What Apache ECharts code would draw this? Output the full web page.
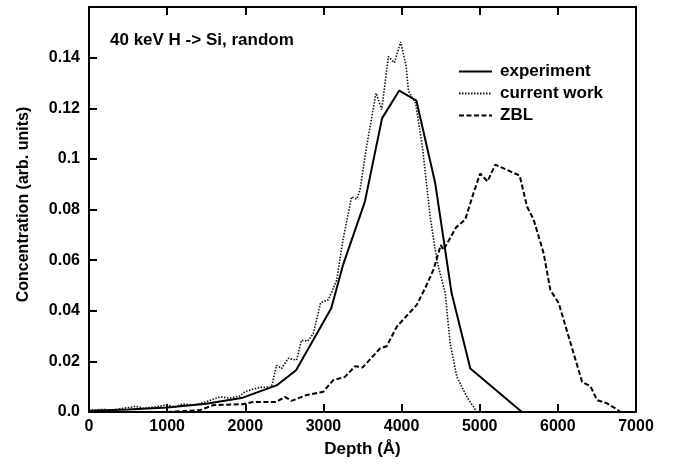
<!DOCTYPE html>
<html>
<head>
<meta charset="utf-8">
<script src="https://cdn.jsdelivr.net/npm/echarts@6/dist/echarts.min.js"></script>
<style>html,body{margin:0;padding:0;background:#fff}#c{width:679px;height:469px}</style>
</head>
<body>
<div id="c"></div>
<script>
var seriesNames = ['experiment', 'current work', 'ZBL'];
var titleText = '40 keV H -> Si, random';
var xTicks = [0, 1000, 2000, 3000, 4000, 5000, 6000, 7000];
var yTicks = [0, 0.02, 0.04, 0.06, 0.08, 0.1, 0.12, 0.14];

var experiment = [
  [0, 0.0005], [500, 0.001], [1000, 0.0018], [1500, 0.0033], [1950, 0.0055],
  [2400, 0.0105], [2650, 0.0165], [3100, 0.041], [3250, 0.058], [3530, 0.083],
  [3750, 0.116], [3970, 0.127], [4190, 0.123], [4430, 0.0905], [4640, 0.047],
  [4880, 0.0172], [5540, 0]
];

var currentWork = [
  [0, 0.0005], [150, 0.001], [300, 0.0008], [450, 0.0015], [600, 0.0022], [700, 0.0015],
  [850, 0.002], [1000, 0.0028], [1100, 0.002], [1200, 0.0032], [1350, 0.0028],
  [1500, 0.004], [1673, 0.006], [1800, 0.0055], [1929, 0.0063], [1994, 0.008],
  [2100, 0.009], [2186, 0.0097], [2336, 0.0099], [2400, 0.0185], [2464, 0.0172],
  [2549, 0.0212], [2656, 0.0205], [2720, 0.0284], [2800, 0.028], [2870, 0.031],
  [2964, 0.0432], [3062, 0.0443], [3169, 0.052], [3250, 0.068], [3361, 0.085],
  [3425, 0.0841], [3468, 0.0878], [3553, 0.105], [3673, 0.126], [3746, 0.1195],
  [3831, 0.1404], [3908, 0.138], [3989, 0.1462], [4058, 0.1367], [4088, 0.1268],
  [4180, 0.122], [4270, 0.104], [4365, 0.0773], [4451, 0.060], [4558, 0.047],
  [4622, 0.0271], [4707, 0.0139], [4836, 0.006], [4964, 0]
];

var zbl = [
  [1000, 0], [1417, 0.0007], [1588, 0.0027], [1972, 0.0031], [2100, 0.004],
  [2400, 0.004], [2506, 0.006], [2592, 0.0044], [2784, 0.0067], [2998, 0.008],
  [3126, 0.0126], [3276, 0.0139], [3404, 0.0181], [3502, 0.0176], [3724, 0.0251],
  [3810, 0.026], [3938, 0.0337], [4194, 0.0423], [4301, 0.0489], [4408, 0.0562],
  [4502, 0.066], [4536, 0.064], [4699, 0.073], [4814, 0.076], [4921, 0.0865],
  [5006, 0.0942], [5100, 0.0911], [5199, 0.0977], [5511, 0.0934], [5605, 0.0812],
  [5690, 0.076], [5818, 0.0627], [5904, 0.0482], [6011, 0.043], [6310, 0.0119],
  [6417, 0.0102], [6502, 0.0047], [6630, 0.0034], [6759, 0.001], [6800, 0]
];

var FONT = '"Liberation Sans", Arial, Helvetica, sans-serif';
var chart = echarts.init(document.getElementById('c'), null, {renderer: 'canvas'});
var axisLineStyle = {color: '#000', width: 2};
var tickStyle = {show: true, inside: true, length: 8, lineStyle: {color: '#000', width: 2}};
chart.setOption({
  animation: false,
  backgroundColor: '#fff',
  grid: {left: 89, right: 43, top: 7, bottom: 57, containLabel: false},
  title: {
    text: titleText, left: 105, top: 27,
    textStyle: {fontFamily: FONT, fontWeight: 'bold', fontSize: 17, color: '#000'}
  },
  legend: {
    left: 453, top: 58, orient: 'vertical',
    itemWidth: 33, itemHeight: 14, itemGap: 5,
    data: seriesNames,
    itemStyle: {opacity: 0},
    textStyle: {fontFamily: FONT, fontWeight: 'bold', fontSize: 17, color: '#000', padding: [0, 0, 0, 3]}
  },
  xAxis: [{
    type: 'value', min: 0, max: 7000, interval: 1000, position: 'bottom',
    name: 'Depth (Å)', nameLocation: 'middle', nameGap: 29,
    nameTextStyle: {fontFamily: FONT, fontWeight: 'bold', fontSize: 17, color: '#000'},
    axisLine: {show: true, onZero: false, lineStyle: axisLineStyle},
    axisTick: tickStyle,
    axisLabel: {fontFamily: FONT, fontWeight: 'bold', fontSize: 16, color: '#000', margin: 7,
      formatter: function (v) { return xTicks.indexOf(v) >= 0 ? String(v) : ''; }},
    splitLine: {show: false}
  }, {
    type: 'value', min: 0, max: 7000, interval: 1000, position: 'top',
    axisLine: {show: true, onZero: false, lineStyle: axisLineStyle},
    axisTick: tickStyle,
    axisLabel: {show: false}, splitLine: {show: false}
  }],
  yAxis: [{
    type: 'value', min: 0, max: 0.16, interval: 0.02, position: 'left',
    name: 'Concentration (arb. units)', nameLocation: 'middle', nameGap: 57,
    nameTextStyle: {fontFamily: FONT, fontWeight: 'bold', fontSize: 16, color: '#000', padding: [0, 0, 0, 10]},
    axisLine: {show: true, onZero: false, lineStyle: axisLineStyle},
    axisTick: tickStyle,
    axisLabel: {fontFamily: FONT, fontWeight: 'bold', fontSize: 16, color: '#000', margin: 9,
      formatter: function (v) {
        var r = Math.round(v * 100) / 100;
        if (r === 0) return '0.0';
        var found = yTicks.some(function (t) { return Math.abs(t - r) < 1e-9; });
        return found ? String(r) : '';
      }},
    splitLine: {show: false}
  }, {
    type: 'value', min: 0, max: 0.16, interval: 0.02, position: 'right',
    axisLine: {show: true, onZero: false, lineStyle: axisLineStyle},
    axisTick: {show: false}, axisLabel: {show: false}, splitLine: {show: false}
  }],
  series: [{
    name: seriesNames[0], type: 'line', data: experiment, showSymbol: false, symbol: 'none',
    lineStyle: {color: '#000', width: 2, type: 'solid'}, itemStyle: {color: '#000'}
  }, {
    name: seriesNames[1], type: 'line', data: currentWork, showSymbol: false, symbol: 'none',
    lineStyle: {color: '#111', width: 1.6, type: [1.5, 1.5]}, itemStyle: {color: '#111'}
  }, {
    name: seriesNames[2], type: 'line', data: zbl, showSymbol: false, symbol: 'none',
    lineStyle: {color: '#000', width: 2, type: [5, 2.5]}, itemStyle: {color: '#000'}
  }]
});
</script>
</body>
</html>
